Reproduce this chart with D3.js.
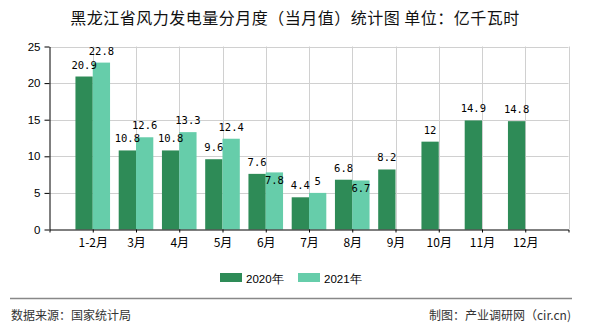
<!DOCTYPE html>
<html><head><meta charset="utf-8">
<script src="https://cdn.jsdelivr.net/npm/d3@7"></script>
<style>
html,body{margin:0;padding:0;background:#fff;}
svg{display:block;}
</style>
</head><body>
<svg id="c" width="590" height="330"></svg>
<script>
const title = "黑龙江省风力发电量分月度（当月值）统计图 单位：亿千瓦时";
const categories = ["1-2月","3月","4月","5月","6月","7月","8月","9月","10月","11月","12月"];
const seriesNames = ["2020年","2021年"];
const values2020 = [20.9,10.8,10.8,9.6,7.6,4.4,6.8,8.2,12,14.9,14.8];
const values2021 = [22.8,12.6,13.3,12.4,7.8,5,6.7,null,null,null,null];
const yTicks = [0,5,10,15,20,25];
const sourceText = "数据来源：国家统计局";
const creditText = "制图：产业调研网（cir.cn)";

const colors = ["#2E8B57","#66CDAA"];
const svg = d3.select("#c");
const L = 49.5, R = 568.5, T = 46.5, B = 229.5;
const x = d3.scalePoint().domain(categories).range([L,R]).padding(1);
const y = d3.scaleLinear().domain([0,25]).range([B,T]);
const bw = x.step()*0.4;
const cjk = "'Noto Sans CJK SC','Noto Sans',sans-serif";

// title
svg.append("text").attr("x",295).attr("y",24).attr("text-anchor","middle")
  .style("font-family",cjk).style("font-size","16px").style("letter-spacing","0.5px")
  .attr("fill","#111").text(title);

// grid
const g = svg.append("g");
g.selectAll(".hg").data(yTicks.filter(d=>d>0)).enter().append("line")
  .attr("x1",L).attr("x2",R).attr("y1",d=>Math.round(y(d))+0.5).attr("y2",d=>Math.round(y(d))+0.5)
  .attr("stroke","#d0d0d0").attr("stroke-width",1);
const vx = categories.map(c=>x(c)).concat([R]);
g.selectAll(".vg").data(vx).enter().append("line")
  .attr("x1",d=>Math.round(d)+0.5).attr("x2",d=>Math.round(d)+0.5).attr("y1",T).attr("y2",B)
  .attr("stroke","#d0d0d0").attr("stroke-width",1);

// bars
const series = [values2020, values2021];
series.forEach((vals,si)=>{
  svg.append("g").selectAll("rect").data(categories.map((c,i)=>({c,v:vals[i]})).filter(d=>d.v!=null))
    .enter().append("rect")
    .attr("x",d=>x(d.c) + (si===0 ? -bw : 0))
    .attr("width",bw)
    .attr("y",d=>y(d.v))
    .attr("height",d=>B - y(d.v))
    .attr("fill",colors[si]);
});

// labels
const lf = "'DejaVu Sans Mono','Liberation Mono',monospace";
series.forEach((vals,si)=>{
  svg.append("g").selectAll("text").data(categories.map((c,i)=>({c,v:vals[i],o:si===0?null:values2020[i]})).filter(d=>d.v!=null))
    .enter().append("text")
    .attr("x",d=>x(d.c) + (si===0 ? -bw/2 : bw/2))
    .attr("y",d=>{
      const clash = d.o!=null && Math.abs(d.v - d.o) < 0.3;
      return clash ? y(d.v) + 12 : y(d.v) - 8;
    })
    .attr("text-anchor","middle")
    .style("font-family",lf).style("font-size","10.5px").attr("fill","#000")
    .text(d=>d.v);
});

// axes
const ya = svg.append("g").attr("transform",`translate(${L},0)`)
  .call(d3.axisLeft(y).tickValues(yTicks).tickSize(5).tickSizeOuter(0).tickPadding(4));
ya.selectAll("text").style("font-family","'Liberation Sans',Arial,sans-serif").style("font-size","11.5px").attr("fill","#000");
ya.selectAll("line,path").attr("stroke","#000");

const xa = svg.append("g").attr("transform",`translate(0,${B})`)
  .call(d3.axisBottom(x).tickSize(3).tickSizeOuter(3).tickPadding(5));
xa.selectAll("text").style("font-family",cjk).style("font-size","12px").attr("fill","#000").attr("dy","0.75em");
xa.selectAll("line,path").attr("stroke","#000");

// legend
const lg = svg.append("g");
const lx = [220, 298];
seriesNames.forEach((n,i)=>{
  lg.append("rect").attr("x",lx[i]).attr("y",273).attr("width",22).attr("height",9).attr("fill",colors[i]);
  lg.append("text").attr("x",lx[i]+26).attr("y",282.5).style("font-family","'Liberation Sans',Arial,sans-serif")
    .style("font-size","11.5px").attr("fill","#000").text(n);
});

// footer
svg.append("line").attr("x1",10).attr("x2",572).attr("y1",298.5).attr("y2",298.5).attr("stroke","#888").attr("stroke-width",1.5);
svg.append("text").attr("x",11).attr("y",320).style("font-family",cjk).style("font-size","12px").attr("fill","#333").text(sourceText);
svg.append("text").attr("x",571).attr("y",320).attr("text-anchor","end").style("font-family",cjk).style("font-size","12px").attr("fill","#333").text(creditText);
</script>
</body></html>
